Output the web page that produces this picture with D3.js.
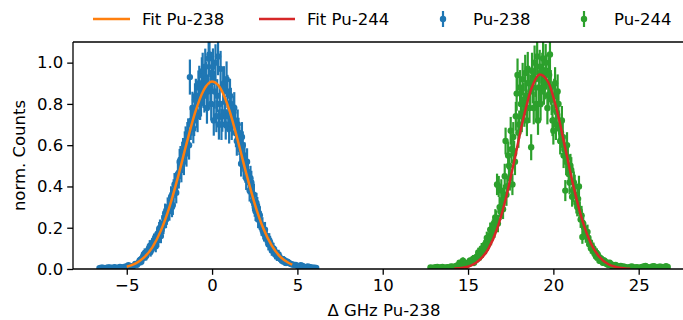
<!DOCTYPE html>
<html><head><meta charset="utf-8">
<script src="https://cdn.jsdelivr.net/npm/d3@7"></script>
<style>html,body{margin:0;padding:0;background:#fff;overflow:hidden}svg{display:block}text{font-family:"DejaVu Sans",sans-serif;fill:#000}</style>
</head><body><svg id="c" width="683" height="320"></svg>
<script>
// ---------- data ----------
const xTicks = [-5, 0, 5, 10, 15, 20, 25];
const yTicks = [0.0, 0.2, 0.4, 0.6, 0.8, 1.0];
const legendLabels = ["Fit Pu-238", "Fit Pu-244", "Pu-238", "Pu-244"];

const pu238X = [-6.6,-6.4,-6.2,-6.0,-5.8,-5.6,-5.4,-5.2,-5.0,-4.8,-4.6,-4.4,
 -4.3,-4.2,-4.1,-4.0,-3.9,-3.8,-3.7,-3.6,-3.5,-3.4,-3.3,-3.2,-3.1,-3.0,-2.9,-2.8,-2.7,-2.6,-2.5,-2.4,-2.3,-2.2,-2.1,-2.0,
 -1.9,-1.8,-1.7,-1.6,-1.5,-1.4,-1.3,-1.2,-1.1,-1.0,-0.9,-0.8,-0.7,-0.6,-0.5,-0.4,-0.3,-0.2,-0.1,0.0,
 0.1,0.2,0.3,0.4,0.5,0.6,0.7,0.8,0.9,1.0,1.1,1.2,1.3,1.4,1.5,1.6,1.7,1.8,1.9,2.0,
 2.1,2.2,2.3,2.4,2.5,2.6,2.7,2.8,2.9,3.0,3.1,3.2,3.3,3.4,3.5,3.6,3.7,3.8,3.9,4.0,4.1,4.2,4.3,4.4,
 4.6,4.8,5.0,5.2,5.4,5.6,5.8,6.0,6.1];
const pu238Y = [0.004,0.006,0.005,0.008,0.006,0.004,0.010,0.007,0.012,0.010,0.015,0.020,
 0.030,0.045,0.050,0.070,0.060,0.080,0.100,0.085,0.120,0.140,0.110,0.170,0.190,0.160,0.220,0.250,0.240,0.300,0.280,0.350,0.310,0.410,0.370,0.460,
 0.520,0.480,0.570,0.600,0.560,0.660,0.930,0.720,0.680,0.820,0.760,0.880,0.800,0.940,0.860,0.980,0.780,1.020,0.880,0.950,
 0.720,1.000,0.840,0.700,0.970,0.740,0.900,0.700,0.860,0.680,0.800,0.720,0.780,0.660,0.700,0.620,0.510,0.600,0.550,0.440,
 0.470,0.380,0.420,0.330,0.300,0.320,0.240,0.260,0.200,0.180,0.190,0.150,0.120,0.130,0.090,0.100,0.070,0.060,0.070,0.050,0.040,0.045,0.030,0.035,
 0.025,0.020,0.015,0.018,0.010,0.012,0.008,0.006,0.005];
const pu238Err = [0.005,0.006,0.005,0.007,0.006,0.005,0.008,0.007,0.009,0.008,0.010,0.012,
 0.014,0.017,0.018,0.022,0.020,0.024,0.027,0.025,0.030,0.032,0.029,0.036,0.038,0.035,0.041,0.043,0.042,0.047,0.046,0.051,0.048,0.055,0.052,0.058,
 0.062,0.060,0.065,0.067,0.064,0.070,0.085,0.074,0.071,0.080,0.076,0.082,0.078,0.086,0.080,0.088,0.076,0.090,0.082,0.086,
 0.074,0.089,0.080,0.073,0.087,0.075,0.083,0.073,0.081,0.072,0.078,0.074,0.077,0.070,0.073,0.068,0.062,0.067,0.064,0.057,
 0.059,0.053,0.056,0.050,0.047,0.049,0.042,0.044,0.039,0.037,0.038,0.034,0.030,0.031,0.026,0.027,0.023,0.021,0.023,0.019,0.017,0.018,0.015,0.016,
 0.013,0.012,0.010,0.011,0.008,0.009,0.007,0.006,0.005];

// second interleaved set of Pu-238 measurements
const pu238X2 = [-6.5,-6.3,-6.1,-5.9,-5.7,-5.5,-5.3,-5.1,-4.9,-4.7,-4.5,
 -4.25,-4.15,-4.05,-3.95,-3.85,-3.75,-3.65,-3.55,-3.45,-3.35,-3.25,-3.15,-3.05,-2.95,-2.85,-2.75,-2.65,-2.55,-2.45,-2.35,-2.25,-2.15,-2.05,
 -1.95,-1.85,-1.75,-1.65,-1.55,-1.45,-1.35,-1.25,-1.15,-1.05,-0.95,-0.85,-0.75,-0.65,-0.55,-0.45,-0.35,-0.25,-0.15,-0.05,
 0.05,0.15,0.25,0.35,0.45,0.55,0.65,0.75,0.85,0.95,1.05,1.15,1.25,1.35,1.45,1.55,1.65,1.75,1.85,1.95,
 2.05,2.15,2.25,2.35,2.45,2.55,2.65,2.75,2.85,2.95,3.05,3.15,3.25,3.35,3.45,3.55,3.65,3.75,3.85,3.95,4.05,4.15,4.25,4.35,
 4.5,4.7,4.9,5.1,5.3,5.5,5.7,5.9];
const pu238Y2 = [0.006,0.004,0.007,0.005,0.009,0.006,0.008,0.011,0.018,0.013,0.025,
 0.040,0.035,0.060,0.075,0.065,0.090,0.110,0.095,0.130,0.120,0.150,0.140,0.200,0.190,0.210,0.270,0.260,0.290,0.320,0.300,0.380,0.400,0.420,
 0.450,0.530,0.550,0.520,0.620,0.640,0.600,0.700,0.780,0.720,0.840,0.740,0.900,0.820,0.960,0.840,0.920,0.860,1.040,0.800,
 0.980,0.860,0.740,1.030,0.800,0.700,0.880,0.760,0.920,0.740,0.840,0.700,0.760,0.720,0.620,0.660,0.580,0.640,0.500,0.480,
 0.520,0.420,0.440,0.360,0.360,0.280,0.300,0.270,0.220,0.210,0.170,0.160,0.140,0.140,0.110,0.100,0.085,0.080,0.065,0.055,0.050,0.040,0.040,0.030,
 0.030,0.022,0.020,0.012,0.015,0.008,0.010,0.006];
const pu238Err2 = [0.006,0.005,0.006,0.005,0.007,0.006,0.007,0.008,0.011,0.009,0.014,
 0.018,0.017,0.022,0.025,0.023,0.027,0.030,0.028,0.032,0.031,0.035,0.034,0.040,0.039,0.041,0.047,0.046,0.048,0.051,0.049,0.055,0.057,0.058,
 0.060,0.066,0.067,0.065,0.071,0.072,0.070,0.075,0.079,0.076,0.082,0.077,0.085,0.081,0.088,0.082,0.086,0.083,0.092,0.080,
 0.089,0.083,0.077,0.091,0.080,0.075,0.084,0.078,0.086,0.077,0.082,0.075,0.078,0.076,0.071,0.073,0.069,0.072,0.064,0.062,
 0.065,0.058,0.060,0.054,0.054,0.048,0.049,0.047,0.042,0.041,0.037,0.036,0.034,0.034,0.030,0.028,0.026,0.025,0.023,0.021,0.020,0.018,0.018,0.016,
 0.016,0.013,0.012,0.009,0.010,0.007,0.008,0.006];

const pu244X = [12.8,13.0,13.2,13.4,13.6,13.8,14.0,14.2,14.4,
 14.5,14.6,14.7,14.8,14.9,15.0,15.1,15.2,15.3,15.4,15.5,15.6,15.7,15.8,15.9,16.0,16.1,16.2,16.3,16.4,16.5,16.6,16.7,16.8,16.9,17.0,
 17.1,17.2,17.3,17.4,17.5,17.6,17.7,17.8,17.9,18.0,18.1,18.2,18.3,18.4,18.5,18.6,18.7,18.8,18.9,19.0,
 19.1,19.2,19.3,19.4,19.5,19.6,19.7,19.8,19.9,20.0,20.1,20.2,20.3,20.4,20.5,20.6,20.7,20.8,20.9,21.0,
 21.1,21.2,21.3,21.4,21.5,21.6,21.7,21.8,21.9,22.0,22.1,22.2,22.3,22.4,22.5,22.6,22.7,22.8,22.9,23.0,
 23.1,23.2,23.3,23.4,23.5,23.6,23.7,23.8,23.9,24.0,
 24.2,24.4,24.6,24.8,25.0,25.2,25.4,25.6,25.8,26.0,26.2,26.4,26.6,26.7];
const pu244Y = [0.008,0.006,0.010,0.007,0.005,0.009,0.012,0.010,0.018,
 0.030,0.025,0.040,0.020,0.015,0.030,0.040,0.035,0.050,0.045,0.060,0.080,0.070,0.100,0.090,0.120,0.150,0.130,0.190,0.170,0.220,0.250,0.410,0.400,0.280,0.330,
 0.360,0.620,0.400,0.500,0.670,0.410,0.560,0.740,0.940,0.700,0.800,0.920,0.760,0.840,0.970,0.780,0.590,0.880,1.000,0.800,
 0.720,0.980,0.860,1.020,0.900,0.960,0.840,1.040,0.820,0.670,0.900,0.760,0.800,0.620,0.720,0.550,0.380,0.600,0.460,0.500,
 0.350,0.420,0.360,0.300,0.400,0.240,0.155,0.200,0.160,0.180,0.120,0.100,0.090,0.080,0.060,0.070,0.040,0.050,0.030,0.040,
 0.025,0.020,0.030,0.015,0.020,0.012,0.015,0.010,0.012,0.008,
 0.010,0.006,0.012,0.008,0.005,0.010,0.015,0.007,0.012,0.009,0.011,0.006,0.013,0.010];
const pu244Err = [0.007,0.006,0.008,0.007,0.005,0.007,0.009,0.008,0.011,
 0.014,0.013,0.016,0.012,0.010,0.014,0.016,0.015,0.018,0.017,0.020,0.023,0.022,0.026,0.024,0.028,0.031,0.029,0.035,0.033,0.038,0.040,0.052,0.051,0.043,0.046,
 0.049,0.065,0.051,0.057,0.067,0.052,0.061,0.070,0.080,0.068,0.073,0.079,0.071,0.075,0.082,0.072,0.063,0.077,0.083,0.073,
 0.070,0.082,0.076,0.084,0.078,0.080,0.075,0.085,0.074,0.067,0.078,0.071,0.073,0.065,0.070,0.061,0.051,0.063,0.056,0.058,
 0.048,0.053,0.049,0.045,0.052,0.041,0.033,0.037,0.033,0.035,0.029,0.026,0.025,0.023,0.020,0.022,0.016,0.018,0.014,0.016,
 0.012,0.011,0.014,0.010,0.011,0.009,0.010,0.008,0.009,0.007,
 0.008,0.006,0.009,0.007,0.005,0.008,0.010,0.007,0.009,0.008,0.009,0.006,0.009,0.008];

// second interleaved set of Pu-244 measurements
const pu244X2 = [12.9,13.1,13.3,13.5,13.7,13.9,14.1,14.3,
 14.55,14.65,14.75,14.85,14.95,15.05,15.15,15.25,15.35,15.45,15.55,15.65,15.75,15.85,15.95,16.05,16.15,16.25,16.35,16.45,16.55,16.65,16.75,16.85,16.95,17.05,
 17.15,17.25,17.35,17.45,17.55,17.65,17.75,17.85,17.95,18.05,18.15,18.25,18.35,18.45,18.55,18.65,18.75,18.85,18.95,19.05,
 19.15,19.25,19.35,19.45,19.55,19.65,19.75,19.85,19.95,20.05,20.15,20.25,20.35,20.45,20.55,20.65,20.75,20.85,20.95,21.05,
 21.15,21.25,21.35,21.45,21.55,21.65,21.75,21.85,21.95,22.05,22.15,22.25,22.35,22.45,22.55,22.65,22.75,22.85,22.95,23.05,
 23.15,23.25,23.35,23.45,23.55,23.65,23.75,23.85,23.95,
 24.1,24.3,24.5,24.7,24.9,25.1,25.3,25.5,25.7,25.9,26.1,26.3,26.5];
const pu244Y2 = [0.005,0.009,0.006,0.010,0.008,0.006,0.011,0.015,
 0.020,0.015,0.030,0.025,0.020,0.025,0.030,0.040,0.030,0.050,0.050,0.060,0.065,0.080,0.110,0.100,0.120,0.160,0.150,0.200,0.190,0.240,0.220,0.300,0.380,0.290,
 0.450,0.360,0.550,0.440,0.580,0.640,0.520,0.850,0.660,0.880,0.740,0.820,0.950,0.720,0.900,0.860,0.960,0.780,0.920,1.030,
 0.880,0.800,0.960,0.880,1.000,0.780,0.940,0.880,0.720,0.840,0.700,0.860,0.680,0.660,0.640,0.580,0.520,0.540,0.420,0.480,
 0.380,0.400,0.320,0.340,0.280,0.260,0.220,0.190,0.170,0.150,0.130,0.110,0.100,0.070,0.075,0.060,0.050,0.045,0.035,0.030,
 0.030,0.020,0.025,0.018,0.015,0.020,0.012,0.010,0.015,
 0.012,0.008,0.010,0.006,0.009,0.007,0.012,0.010,0.006,0.014,0.008,0.011,0.009];
const pu244Err2 = [0.006,0.007,0.006,0.008,0.007,0.006,0.008,0.010,
 0.013,0.011,0.016,0.014,0.013,0.014,0.016,0.018,0.016,0.020,0.020,0.022,0.023,0.025,0.030,0.028,0.031,0.036,0.035,0.040,0.039,0.044,0.042,0.049,0.055,0.048,
 0.060,0.054,0.067,0.060,0.069,0.072,0.065,0.083,0.073,0.084,0.077,0.081,0.088,0.076,0.085,0.083,0.088,0.079,0.086,0.091,
 0.084,0.080,0.088,0.084,0.090,0.079,0.087,0.084,0.076,0.082,0.075,0.083,0.074,0.073,0.072,0.069,0.065,0.066,0.058,0.062,
 0.055,0.057,0.051,0.052,0.048,0.046,0.042,0.039,0.037,0.035,0.032,0.030,0.028,0.024,0.025,0.022,0.020,0.019,0.017,0.016,
 0.016,0.013,0.014,0.012,0.011,0.013,0.010,0.009,0.011,
 0.009,0.007,0.008,0.006,0.007,0.006,0.009,0.008,0.006,0.009,0.007,0.008,0.007];

const fit238X = [-5.0,-4.5,-4.0,-3.5,-3.0,-2.5,-2.0,-1.5,-1.0,-0.5,0.0,0.5,1.0,1.5,2.0,2.5,3.0,3.5,4.0,4.5,4.7];
const fit238Y = [0.011,0.026,0.055,0.105,0.186,0.300,0.445,0.606,0.756,0.865,0.908,0.874,0.772,0.625,0.464,0.316,0.197,0.113,0.059,0.029,0.021];
const fit244X = [14.2,14.7,15.2,15.7,16.2,16.7,17.2,17.7,18.2,18.7,19.2,19.7,20.2,20.7,21.2,21.7,22.2,22.7,23.2,23.7,24.2,24.5];
const fit244Y = [0.002,0.006,0.018,0.045,0.099,0.194,0.337,0.521,0.715,0.871,0.943,0.905,0.772,0.584,0.393,0.235,0.124,0.058,0.024,0.009,0.003,0.001];

// ---------- drawing ----------
const C238 = "#1f77b4", C244 = "#2ca02c", CF238 = "#ff7f0e", CF244 = "#d62728";
const svg = d3.select("#c");
const L = 73, R = 695, T = 42, B = 269;
const x = d3.scaleLinear().domain([-8.15, 28.3]).range([L, R]);
const y = d3.scaleLinear().domain([0, 1.1]).range([B, T]);
const FS = 16.5;
const MR = 3.2, EW = 2.2;

svg.append("defs").append("clipPath").attr("id", "clip")
  .append("rect").attr("x", L).attr("y", T).attr("width", R - L).attr("height", B - T);
const plot = svg.append("g").attr("clip-path", "url(#clip)");

function errSeries(xs, ys, es, color) {
  const g = plot.append("g");
  const d = xs.map((v, i) => ({x: v, y: ys[i], e: es[i]}));
  g.selectAll("line").data(d).join("line")
    .attr("x1", p => x(p.x)).attr("x2", p => x(p.x))
    .attr("y1", p => y(p.y - p.e)).attr("y2", p => y(p.y + p.e))
    .attr("stroke", color).attr("stroke-width", EW);
  g.selectAll("circle").data(d).join("circle")
    .attr("cx", p => x(p.x)).attr("cy", p => y(p.y)).attr("r", MR)
    .attr("fill", color);
}
errSeries(pu238X.concat(pu238X2), pu238Y.concat(pu238Y2), pu238Err.concat(pu238Err2), C238);
errSeries(pu244X.concat(pu244X2), pu244Y.concat(pu244Y2), pu244Err.concat(pu244Err2), C244);

const line = d3.line().x(d => x(d[0])).y(d => y(d[1])).curve(d3.curveMonotoneX);
plot.append("path").attr("d", line(fit238X.map((v, i) => [v, fit238Y[i]])))
  .attr("fill", "none").attr("stroke", CF238).attr("stroke-width", 2.5);
plot.append("path").attr("d", line(fit244X.map((v, i) => [v, fit244Y[i]])))
  .attr("fill", "none").attr("stroke", CF244).attr("stroke-width", 2.5);

// axes
const xAxis = d3.axisBottom(x).tickValues(xTicks).tickSize(5.8).tickPadding(4)
  .tickFormat(d => d < 0 ? "\u2212" + Math.abs(d) : String(d));
const yAxis = d3.axisLeft(y).tickValues(yTicks).tickSize(5.8).tickPadding(4)
  .tickFormat(d3.format(".1f"));
const gx = svg.append("g").attr("transform", `translate(0,${B})`).call(xAxis);
const gy = svg.append("g").attr("transform", `translate(${L},0)`).call(yAxis);
[gx, gy].forEach(g => {
  g.select(".domain").remove();
  g.selectAll(".tick line").attr("stroke", "#000").attr("stroke-width", 1.3);
  g.selectAll(".tick text").attr("font-size", FS).attr("font-family", "DejaVu Sans");
});
// spines
svg.append("line").attr("x1", L).attr("x2", L).attr("y1", T).attr("y2", B).attr("stroke", "#000").attr("stroke-width", 1.3);
svg.append("line").attr("x1", L).attr("x2", R).attr("y1", B).attr("y2", B).attr("stroke", "#000").attr("stroke-width", 1.3);
svg.append("line").attr("x1", L).attr("x2", R).attr("y1", T).attr("y2", T).attr("stroke", "#000").attr("stroke-width", 1.3);

// labels
svg.append("text").attr("x", 384).attr("y", 316).attr("text-anchor", "middle")
  .attr("font-size", FS).text("\u0394 GHz Pu-238");
svg.append("text").attr("transform", `translate(25,${(T + B) / 2}) rotate(-90)`)
  .attr("text-anchor", "middle").attr("font-size", FS).text("norm. Counts");

// legend
const lg = svg.append("g");
const ly = 19;
lg.append("line").attr("x1", 93).attr("x2", 130).attr("y1", ly).attr("y2", ly).attr("stroke", CF238).attr("stroke-width", 2.5);
lg.append("text").attr("x", 142).attr("y", ly + 6).attr("font-size", FS).text(legendLabels[0]);
lg.append("line").attr("x1", 259).attr("x2", 295).attr("y1", ly).attr("y2", ly).attr("stroke", CF244).attr("stroke-width", 2.5);
lg.append("text").attr("x", 307).attr("y", ly + 6).attr("font-size", FS).text(legendLabels[1]);
[[443, C238, legendLabels[2], 473], [584, C244, legendLabels[3], 614]].forEach(([cx, col, lab, tx]) => {
  lg.append("line").attr("x1", cx).attr("x2", cx).attr("y1", ly - 8).attr("y2", ly + 8).attr("stroke", col).attr("stroke-width", EW);
  lg.append("circle").attr("cx", cx).attr("cy", ly).attr("r", MR).attr("fill", col);
  lg.append("text").attr("x", tx).attr("y", ly + 6).attr("font-size", FS).text(lab);
});
</script></body></html>
